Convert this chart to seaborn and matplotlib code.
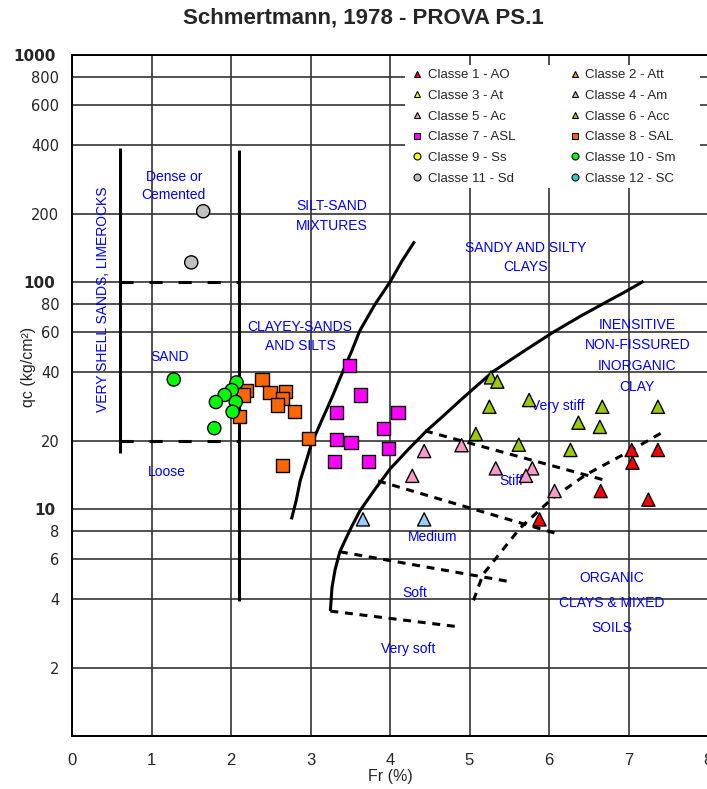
import matplotlib
matplotlib.use("Agg")
import matplotlib.pyplot as plt
from matplotlib.lines import Line2D
from matplotlib.patches import Rectangle
import seaborn as sns
import pandas as pd

# ---- measured points per soil class (Fr %, qc kg/cm2) ----
class_names = ["Classe 1 - AO", "Classe 2 - Att", "Classe 3 - At", "Classe 4 - Am",
               "Classe 5 - Ac", "Classe 6 - Acc", "Classe 7 - ASL", "Classe 8 - SAL",
               "Classe 9 - Ss", "Classe 10 - Sm", "Classe 11 - Sd", "Classe 12 - SC"]
class_colors = ["#FF0000", "#FF9900", "#FFFF00", "#99CCFF", "#FF99CC", "#99CC00",
                "#FF00FF", "#FF6600", "#FFFF00", "#00FF00", "#C0C0C0", "#33CCCC"]
class_markers = ["^", "^", "^", "^", "^", "^", "s", "s", "o", "o", "o", "o"]

fr_c1 = [7.04, 7.37, 7.05, 6.65, 7.25, 5.88]
qc_c1 = [18.2, 18.2, 16.0, 12.0, 11.0, 9.0]
fr_c4 = [3.66, 4.43]
qc_c4 = [9.0, 9.0]
fr_c5 = [4.43, 4.90, 4.28, 5.33, 5.79, 5.71, 6.07]
qc_c5 = [18.0, 19.1, 14.0, 15.1, 15.1, 14.0, 12.0]
fr_c6 = [5.27, 5.35, 5.75, 5.25, 6.67, 7.37, 6.37, 6.64, 5.08, 5.62, 6.27]
qc_c6 = [38.0, 36.4, 30.2, 28.2, 28.2, 28.2, 24.0, 23.0, 21.4, 19.2, 18.2]
fr_c7 = [3.49, 3.63, 3.33, 4.10, 3.92, 3.33, 3.51, 3.98, 3.30, 3.73]
qc_c7 = [42.8, 31.8, 26.7, 26.7, 22.6, 20.3, 19.6, 18.4, 16.2, 16.2]
fr_c8 = [2.39, 2.20, 2.15, 2.49, 2.69, 2.65, 2.59, 2.80, 2.11, 2.98, 2.65]
qc_c8 = [37.2, 33.4, 31.8, 32.6, 32.8, 30.8, 28.7, 26.8, 25.5, 20.4, 15.5]
fr_c10 = [1.28, 2.07, 2.01, 1.92, 1.81, 2.06, 2.02, 1.79]
qc_c10 = [37.2, 36.1, 33.4, 31.8, 29.6, 29.6, 26.8, 22.7]
fr_c11 = [1.65, 1.50]
qc_c11 = [205.0, 122.0]

# ---- Schmertmann (1978) chart boundaries ----
silt_sand_fr = [2.76, 2.82, 2.87, 2.94, 3.01, 3.14, 3.27, 3.41, 3.52, 3.62, 3.81, 4.00, 4.15, 4.31]
silt_sand_qc = [9.0, 10.9, 13.3, 16.0, 19.3, 24.5, 31.0, 40.6, 49.8, 61.0, 79.6, 100.0, 123.6, 151.0]
clay_fr = [3.25, 3.27, 3.31, 3.37, 3.50, 3.62, 3.81, 4.00, 4.23, 4.46, 4.67, 4.88, 5.08,
           5.30, 5.68, 6.05, 6.39, 6.70, 6.96, 7.19]
clay_qc = [3.55, 4.5, 5.42, 6.5, 8.13, 9.8, 12.2, 15.0, 18.3, 22.1, 25.7, 30.0, 34.6,
           40.4, 49.5, 60.0, 70.5, 80.9, 90.6, 100.8]
organic_fr = [5.05, 5.17, 5.64, 6.05, 6.47, 6.98, 7.42]
organic_qc = [3.96, 5.15, 8.27, 11.2, 14.2, 17.7, 21.7]
consistency_fr = [[4.44, 6.70], [3.85, 6.10], [3.37, 5.47], [3.25, 4.82]]
consistency_qc = [[22.1, 13.4], [13.3, 7.78], [6.48, 4.81], [3.55, 3.04]]
sand_left_fr, sand_left_qc = [0.61, 0.61], [17.7, 388.0]
sand_right_fr, sand_right_qc = [2.10, 2.10], [3.93, 381.0]
sand_split_qc = [100.0, 20.0]

y_major = [1, 10, 100, 1000]
y_minor = [2, 4, 6, 8, 20, 40, 60, 80, 200, 400, 600, 800]
x_ticks = [0, 1, 2, 3, 4, 5, 6, 7, 8]

zone_labels = [
    ("Dense or\nCemented", 1.28, 264, 1.37),
    ("SAND", 1.23, 46.9, 1.3),
    ("Loose", 1.19, 14.6, 1.3),
    ("SILT-SAND\nMIXTURES", 3.27, 195, 1.5),
    ("CLAYEY-SANDS\nAND SILTS", 2.87, 57.4, 1.5),
    ("SANDY AND SILTY\nCLAYS", 5.71, 128, 1.5),
    ("INENSITIVE\nNON-FISSURED\nINORGANIC\nCLAY", 7.11, 47.3, 1.62),
    ("Very stiff", 6.11, 28.5, 1.3),
    ("Stiff", 5.52, 13.3, 1.3),
    ("Medium", 4.53, 7.5, 1.3),
    ("Soft", 4.31, 4.26, 1.3),
    ("Very soft", 4.23, 2.41, 1.3),
    ("ORGANIC\nCLAYS & MIXED\nSOILS", 6.79, 3.85, 2.02),
]

sns.set_style("white")
plt.rcParams["font.family"] = ["Liberation Sans", "DejaVu Sans"]

fig = plt.figure(figsize=(7.07, 7.89), dpi=100)
ax = fig.add_axes([72 / 707, 53 / 789, 636 / 707, 681 / 789])
ax.set_yscale("log")
ax.set_xlim(0, 8)
ax.set_ylim(1, 1000)

# grid
grid_kw = dict(color="#333333", lw=1.2, zorder=0.5)
for q in y_major + y_minor:
    ax.axhline(q, **grid_kw)
for f in x_ticks:
    ax.axvline(f, **grid_kw)

# scatter data through seaborn
frames = []
for idx, fr, qc in [(0, fr_c1, qc_c1), (3, fr_c4, qc_c4), (4, fr_c5, qc_c5),
                    (5, fr_c6, qc_c6), (6, fr_c7, qc_c7), (7, fr_c8, qc_c8),
                    (9, fr_c10, qc_c10), (10, fr_c11, qc_c11)]:
    frames.append(pd.DataFrame({"Fr": fr, "qc": qc, "Classe": class_names[idx]}))
df = pd.concat(frames, ignore_index=True)
present = list(dict.fromkeys(df["Classe"]))
pal = {n: c for n, c in zip(class_names, class_colors)}
mks = {n: m for n, m in zip(class_names, class_markers)}
sns.scatterplot(data=df, x="Fr", y="qc", hue="Classe", style="Classe",
                hue_order=present, style_order=present,
                palette={k: pal[k] for k in present}, markers={k: mks[k] for k in present},
                s=90, edgecolor="black", linewidth=1.0, legend=False, ax=ax, zorder=6)

# boundaries
solid = dict(color="black", lw=2.2, zorder=4, solid_capstyle="butt", solid_joinstyle="round")
dashed = dict(color="black", lw=2.2, zorder=4, dashes=(2.6, 2.2), dash_capstyle="butt")
ax.plot(silt_sand_fr, silt_sand_qc, **solid)
ax.plot(clay_fr, clay_qc, **solid)
ax.plot(organic_fr, organic_qc, **dashed)
for fr, qc in zip(consistency_fr, consistency_qc):
    ax.plot(fr, qc, **dashed)
ax.plot(sand_left_fr, sand_left_qc, **solid)
ax.plot(sand_right_fr, sand_right_qc, **solid)
for q in sand_split_qc:
    ax.plot([sand_left_fr[0], sand_right_fr[0]], [q, q], color="black", lw=2.2,
            zorder=4, dashes=(4.3, 5.2), dash_capstyle="butt")

# zone labels
for txt, fx, qy, ls in zone_labels:
    ax.text(fx, qy, txt, color="#0000FF", fontsize=10, ha="center", va="center",
            linespacing=ls, zorder=5)
ax.text(0.39, 84, "VERY SHELL SANDS, LIMEROCKS", color="#0000FF", fontsize=10,
        rotation=90, ha="center", va="center", zorder=5)

# ticks
ax.set_yticks(y_major)
ax.set_yticklabels(["", "10", "100", "1000"], fontweight="bold",
                   fontfamily="DejaVu Sans", fontsize=11)
ax.set_yticks(y_minor, minor=True)
ax.set_yticklabels([str(v) for v in y_minor], minor=True,
                   fontfamily="DejaVu Sans", fontsize=10.5)
ax.tick_params(axis="y", which="major", length=6, width=1.2, pad=6, color="black", direction="out")
ax.tick_params(axis="y", which="minor", length=0, pad=9)
ax.set_xticks(x_ticks)
ax.set_xticklabels([str(v) for v in x_ticks], fontsize=12)
ax.tick_params(axis="x", length=0, pad=12)
for sp in ax.spines.values():
    sp.set_color("black")
    sp.set_linewidth(1.4)

ax.set_xlabel("Fr (%)", fontsize=11.5, labelpad=1)
ax.set_ylabel("qc (kg/cm²)", fontsize=11.5)
ax.yaxis.set_label_coords(-0.056, 0.542)
fig.text(0.514, 0.977, "Schmertmann, 1978 - PROVA PS.1", ha="center", va="center",
         fontsize=16, fontweight="bold")

# legend: white panel, two columns filled row by row
ax.add_patch(Rectangle((0.5236, 0.8047), 0.987 - 0.5236, 0.9853 - 0.8047,
                       transform=ax.transAxes, facecolor="white", edgecolor="none",
                       zorder=6.5))
handles = [Line2D([], [], ls="none", marker=m, markersize=5, markerfacecolor=c,
                  markeredgecolor="black", markeredgewidth=0.8)
           for m, c in zip(class_markers, class_colors)]
order = list(range(0, 12, 2)) + list(range(1, 12, 2))
leg = ax.legend([handles[i] for i in order], [class_names[i] for i in order],
                ncol=2, loc="upper left", bbox_to_anchor=(0.522, 0.993),
                fontsize=9.5, frameon=False, handlelength=0.6,
                handletextpad=0.5, columnspacing=4.2, labelspacing=0.64,
                borderpad=0.2)
leg.set_zorder(7)

fig.savefig("out.png", dpi=100)
